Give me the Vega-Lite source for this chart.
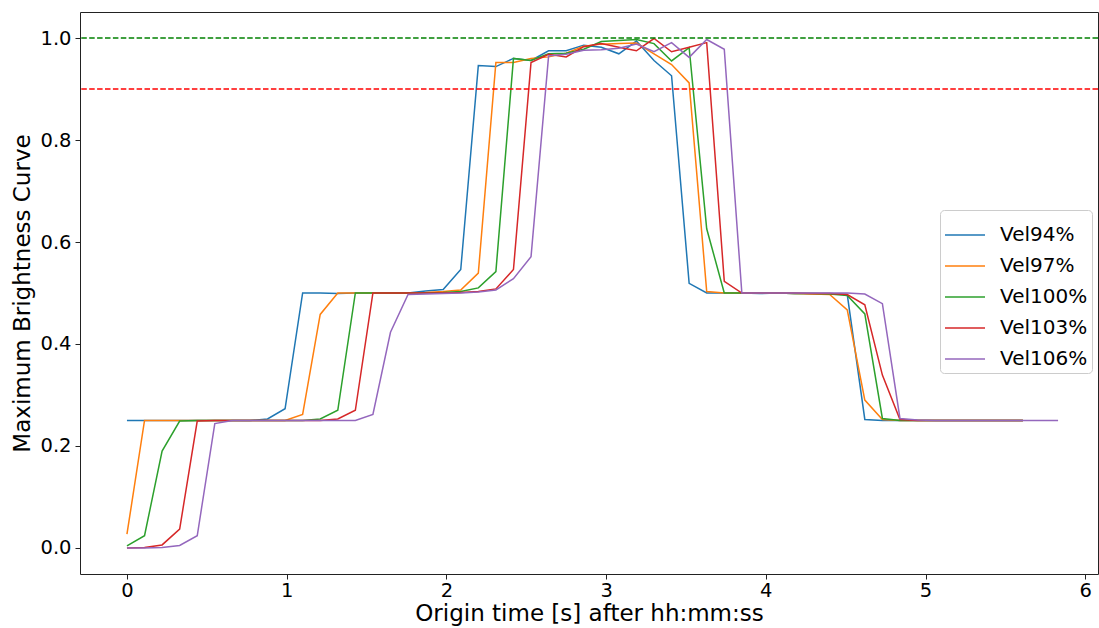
{
  "$schema": "https://vega.github.io/schema/vega-lite/v6.json",
  "width": 1018,
  "height": 562,
  "autosize": {"type": "none"},
  "padding": {"left": 80, "top": 12, "right": 1, "bottom": 54},
  "background": "white",
  "config": {
    "font": "DejaVu Sans",
    "view": {"stroke": "#222222", "strokeWidth": 1},
    "axis": {
      "domain": false,
      "grid": false,
      "tickColor": "#222222",
      "tickSize": 5,
      "tickWidth": 1,
      "labelFont": "DejaVu Sans",
      "labelFontSize": 19.5,
      "labelColor": "black",
      "titleFont": "DejaVu Sans",
      "titleFontSize": 23,
      "titleFontWeight": "normal",
      "titleColor": "black"
    },
    "legend": {
      "orient": "none",
      "legendX": 860,
      "legendY": 198,
      "symbolType": "stroke",
      "symbolSize": 1600,
      "symbolStrokeWidth": 1.5,
      "labelFont": "DejaVu Sans",
      "labelFontSize": 20,
      "labelColor": "black",
      "labelOffset": 14,
      "rowPadding": -11,
      "padding": 4,
      "strokeColor": "#cccccc",
      "cornerRadius": 4,
      "fillColor": "white"
    }
  },
  "datasets": {
    "series": [
      {"s":"Vel94%","x":0,"y":0.25},{"s":"Vel94%","x":0.11,"y":0.25},{"s":"Vel94%","x":0.22,"y":0.25},{"s":"Vel94%","x":0.33,"y":0.25},{"s":"Vel94%","x":0.44,"y":0.25},{"s":"Vel94%","x":0.55,"y":0.25},{"s":"Vel94%","x":0.66,"y":0.25},{"s":"Vel94%","x":0.77,"y":0.25},{"s":"Vel94%","x":0.88,"y":0.253},{"s":"Vel94%","x":0.99,"y":0.273},{"s":"Vel94%","x":1.1,"y":0.5},{"s":"Vel94%","x":1.21,"y":0.5},{"s":"Vel94%","x":1.32,"y":0.499},{"s":"Vel94%","x":1.43,"y":0.5},{"s":"Vel94%","x":1.54,"y":0.5},{"s":"Vel94%","x":1.65,"y":0.5},{"s":"Vel94%","x":1.76,"y":0.5},{"s":"Vel94%","x":1.87,"y":0.504},{"s":"Vel94%","x":1.98,"y":0.507},{"s":"Vel94%","x":2.09,"y":0.546},{"s":"Vel94%","x":2.2,"y":0.946},{"s":"Vel94%","x":2.31,"y":0.944},{"s":"Vel94%","x":2.42,"y":0.96},{"s":"Vel94%","x":2.53,"y":0.956},{"s":"Vel94%","x":2.64,"y":0.975},{"s":"Vel94%","x":2.75,"y":0.975},{"s":"Vel94%","x":2.86,"y":0.986},{"s":"Vel94%","x":2.97,"y":0.982},{"s":"Vel94%","x":3.08,"y":0.969},{"s":"Vel94%","x":3.19,"y":0.994},{"s":"Vel94%","x":3.3,"y":0.956},{"s":"Vel94%","x":3.41,"y":0.926},{"s":"Vel94%","x":3.52,"y":0.519},{"s":"Vel94%","x":3.63,"y":0.5},{"s":"Vel94%","x":3.74,"y":0.5},{"s":"Vel94%","x":3.85,"y":0.5},{"s":"Vel94%","x":3.96,"y":0.499},{"s":"Vel94%","x":4.07,"y":0.5},{"s":"Vel94%","x":4.18,"y":0.499},{"s":"Vel94%","x":4.29,"y":0.499},{"s":"Vel94%","x":4.4,"y":0.499},{"s":"Vel94%","x":4.51,"y":0.497},{"s":"Vel94%","x":4.62,"y":0.252},{"s":"Vel94%","x":4.73,"y":0.25},{"s":"Vel94%","x":4.84,"y":0.25},{"s":"Vel94%","x":4.95,"y":0.25},{"s":"Vel94%","x":5.06,"y":0.25},{"s":"Vel94%","x":5.17,"y":0.25},{"s":"Vel94%","x":5.28,"y":0.25},{"s":"Vel94%","x":5.39,"y":0.25},{"s":"Vel94%","x":5.5,"y":0.25},{"s":"Vel94%","x":5.61,"y":0.25},
      {"s":"Vel97%","x":0,"y":0.027},{"s":"Vel97%","x":0.11,"y":0.25},{"s":"Vel97%","x":0.22,"y":0.25},{"s":"Vel97%","x":0.33,"y":0.25},{"s":"Vel97%","x":0.44,"y":0.25},{"s":"Vel97%","x":0.55,"y":0.25},{"s":"Vel97%","x":0.66,"y":0.25},{"s":"Vel97%","x":0.77,"y":0.25},{"s":"Vel97%","x":0.88,"y":0.25},{"s":"Vel97%","x":0.99,"y":0.25},{"s":"Vel97%","x":1.1,"y":0.262},{"s":"Vel97%","x":1.21,"y":0.458},{"s":"Vel97%","x":1.32,"y":0.5},{"s":"Vel97%","x":1.43,"y":0.5},{"s":"Vel97%","x":1.54,"y":0.5},{"s":"Vel97%","x":1.65,"y":0.5},{"s":"Vel97%","x":1.76,"y":0.5},{"s":"Vel97%","x":1.87,"y":0.501},{"s":"Vel97%","x":1.98,"y":0.503},{"s":"Vel97%","x":2.09,"y":0.506},{"s":"Vel97%","x":2.2,"y":0.539},{"s":"Vel97%","x":2.31,"y":0.952},{"s":"Vel97%","x":2.42,"y":0.952},{"s":"Vel97%","x":2.53,"y":0.96},{"s":"Vel97%","x":2.64,"y":0.963},{"s":"Vel97%","x":2.75,"y":0.97},{"s":"Vel97%","x":2.86,"y":0.984},{"s":"Vel97%","x":2.97,"y":0.988},{"s":"Vel97%","x":3.08,"y":0.989},{"s":"Vel97%","x":3.19,"y":0.99},{"s":"Vel97%","x":3.3,"y":0.969},{"s":"Vel97%","x":3.41,"y":0.948},{"s":"Vel97%","x":3.52,"y":0.912},{"s":"Vel97%","x":3.63,"y":0.503},{"s":"Vel97%","x":3.74,"y":0.5},{"s":"Vel97%","x":3.85,"y":0.5},{"s":"Vel97%","x":3.96,"y":0.5},{"s":"Vel97%","x":4.07,"y":0.5},{"s":"Vel97%","x":4.18,"y":0.499},{"s":"Vel97%","x":4.29,"y":0.498},{"s":"Vel97%","x":4.4,"y":0.497},{"s":"Vel97%","x":4.51,"y":0.467},{"s":"Vel97%","x":4.62,"y":0.29},{"s":"Vel97%","x":4.73,"y":0.252},{"s":"Vel97%","x":4.84,"y":0.25},{"s":"Vel97%","x":4.95,"y":0.25},{"s":"Vel97%","x":5.06,"y":0.25},{"s":"Vel97%","x":5.17,"y":0.25},{"s":"Vel97%","x":5.28,"y":0.25},{"s":"Vel97%","x":5.39,"y":0.25},{"s":"Vel97%","x":5.5,"y":0.25},{"s":"Vel97%","x":5.61,"y":0.25},
      {"s":"Vel100%","x":0,"y":0.004},{"s":"Vel100%","x":0.11,"y":0.024},{"s":"Vel100%","x":0.22,"y":0.19},{"s":"Vel100%","x":0.33,"y":0.249},{"s":"Vel100%","x":0.44,"y":0.25},{"s":"Vel100%","x":0.55,"y":0.25},{"s":"Vel100%","x":0.66,"y":0.25},{"s":"Vel100%","x":0.77,"y":0.25},{"s":"Vel100%","x":0.88,"y":0.25},{"s":"Vel100%","x":0.99,"y":0.25},{"s":"Vel100%","x":1.1,"y":0.25},{"s":"Vel100%","x":1.21,"y":0.253},{"s":"Vel100%","x":1.32,"y":0.27},{"s":"Vel100%","x":1.43,"y":0.5},{"s":"Vel100%","x":1.54,"y":0.5},{"s":"Vel100%","x":1.65,"y":0.5},{"s":"Vel100%","x":1.76,"y":0.5},{"s":"Vel100%","x":1.87,"y":0.5},{"s":"Vel100%","x":1.98,"y":0.501},{"s":"Vel100%","x":2.09,"y":0.503},{"s":"Vel100%","x":2.2,"y":0.51},{"s":"Vel100%","x":2.31,"y":0.542},{"s":"Vel100%","x":2.42,"y":0.96},{"s":"Vel100%","x":2.53,"y":0.956},{"s":"Vel100%","x":2.64,"y":0.969},{"s":"Vel100%","x":2.75,"y":0.97},{"s":"Vel100%","x":2.86,"y":0.978},{"s":"Vel100%","x":2.97,"y":0.993},{"s":"Vel100%","x":3.08,"y":0.995},{"s":"Vel100%","x":3.19,"y":0.997},{"s":"Vel100%","x":3.3,"y":0.989},{"s":"Vel100%","x":3.41,"y":0.955},{"s":"Vel100%","x":3.52,"y":0.981},{"s":"Vel100%","x":3.63,"y":0.626},{"s":"Vel100%","x":3.74,"y":0.5},{"s":"Vel100%","x":3.85,"y":0.5},{"s":"Vel100%","x":3.96,"y":0.5},{"s":"Vel100%","x":4.07,"y":0.5},{"s":"Vel100%","x":4.18,"y":0.499},{"s":"Vel100%","x":4.29,"y":0.499},{"s":"Vel100%","x":4.4,"y":0.498},{"s":"Vel100%","x":4.51,"y":0.495},{"s":"Vel100%","x":4.62,"y":0.459},{"s":"Vel100%","x":4.73,"y":0.254},{"s":"Vel100%","x":4.84,"y":0.25},{"s":"Vel100%","x":4.95,"y":0.25},{"s":"Vel100%","x":5.06,"y":0.25},{"s":"Vel100%","x":5.17,"y":0.25},{"s":"Vel100%","x":5.28,"y":0.25},{"s":"Vel100%","x":5.39,"y":0.25},{"s":"Vel100%","x":5.5,"y":0.25},{"s":"Vel100%","x":5.61,"y":0.25},
      {"s":"Vel103%","x":0,"y":0.0},{"s":"Vel103%","x":0.11,"y":0.001},{"s":"Vel103%","x":0.22,"y":0.006},{"s":"Vel103%","x":0.33,"y":0.037},{"s":"Vel103%","x":0.44,"y":0.249},{"s":"Vel103%","x":0.55,"y":0.25},{"s":"Vel103%","x":0.66,"y":0.25},{"s":"Vel103%","x":0.77,"y":0.25},{"s":"Vel103%","x":0.88,"y":0.25},{"s":"Vel103%","x":0.99,"y":0.25},{"s":"Vel103%","x":1.1,"y":0.25},{"s":"Vel103%","x":1.21,"y":0.25},{"s":"Vel103%","x":1.32,"y":0.253},{"s":"Vel103%","x":1.43,"y":0.27},{"s":"Vel103%","x":1.54,"y":0.5},{"s":"Vel103%","x":1.65,"y":0.5},{"s":"Vel103%","x":1.76,"y":0.5},{"s":"Vel103%","x":1.87,"y":0.5},{"s":"Vel103%","x":1.98,"y":0.5},{"s":"Vel103%","x":2.09,"y":0.501},{"s":"Vel103%","x":2.2,"y":0.503},{"s":"Vel103%","x":2.31,"y":0.508},{"s":"Vel103%","x":2.42,"y":0.546},{"s":"Vel103%","x":2.53,"y":0.952},{"s":"Vel103%","x":2.64,"y":0.968},{"s":"Vel103%","x":2.75,"y":0.963},{"s":"Vel103%","x":2.86,"y":0.983},{"s":"Vel103%","x":2.97,"y":0.989},{"s":"Vel103%","x":3.08,"y":0.982},{"s":"Vel103%","x":3.19,"y":0.975},{"s":"Vel103%","x":3.3,"y":0.999},{"s":"Vel103%","x":3.41,"y":0.973},{"s":"Vel103%","x":3.52,"y":0.982},{"s":"Vel103%","x":3.63,"y":0.991},{"s":"Vel103%","x":3.74,"y":0.523},{"s":"Vel103%","x":3.85,"y":0.5},{"s":"Vel103%","x":3.96,"y":0.5},{"s":"Vel103%","x":4.07,"y":0.5},{"s":"Vel103%","x":4.18,"y":0.5},{"s":"Vel103%","x":4.29,"y":0.499},{"s":"Vel103%","x":4.4,"y":0.499},{"s":"Vel103%","x":4.51,"y":0.497},{"s":"Vel103%","x":4.62,"y":0.477},{"s":"Vel103%","x":4.73,"y":0.339},{"s":"Vel103%","x":4.84,"y":0.252},{"s":"Vel103%","x":4.95,"y":0.25},{"s":"Vel103%","x":5.06,"y":0.25},{"s":"Vel103%","x":5.17,"y":0.25},{"s":"Vel103%","x":5.28,"y":0.25},{"s":"Vel103%","x":5.39,"y":0.25},{"s":"Vel103%","x":5.5,"y":0.25},{"s":"Vel103%","x":5.61,"y":0.25},
      {"s":"Vel106%","x":0,"y":0.0},{"s":"Vel106%","x":0.11,"y":0.0},{"s":"Vel106%","x":0.22,"y":0.001},{"s":"Vel106%","x":0.33,"y":0.005},{"s":"Vel106%","x":0.44,"y":0.024},{"s":"Vel106%","x":0.55,"y":0.244},{"s":"Vel106%","x":0.66,"y":0.25},{"s":"Vel106%","x":0.77,"y":0.25},{"s":"Vel106%","x":0.88,"y":0.25},{"s":"Vel106%","x":0.99,"y":0.25},{"s":"Vel106%","x":1.1,"y":0.25},{"s":"Vel106%","x":1.21,"y":0.25},{"s":"Vel106%","x":1.32,"y":0.25},{"s":"Vel106%","x":1.43,"y":0.25},{"s":"Vel106%","x":1.54,"y":0.262},{"s":"Vel106%","x":1.65,"y":0.423},{"s":"Vel106%","x":1.76,"y":0.497},{"s":"Vel106%","x":1.87,"y":0.498},{"s":"Vel106%","x":1.98,"y":0.499},{"s":"Vel106%","x":2.09,"y":0.5},{"s":"Vel106%","x":2.2,"y":0.502},{"s":"Vel106%","x":2.31,"y":0.506},{"s":"Vel106%","x":2.42,"y":0.528},{"s":"Vel106%","x":2.53,"y":0.571},{"s":"Vel106%","x":2.64,"y":0.965},{"s":"Vel106%","x":2.75,"y":0.968},{"s":"Vel106%","x":2.86,"y":0.976},{"s":"Vel106%","x":2.97,"y":0.977},{"s":"Vel106%","x":3.08,"y":0.98},{"s":"Vel106%","x":3.19,"y":0.988},{"s":"Vel106%","x":3.3,"y":0.973},{"s":"Vel106%","x":3.41,"y":0.991},{"s":"Vel106%","x":3.52,"y":0.962},{"s":"Vel106%","x":3.63,"y":0.997},{"s":"Vel106%","x":3.74,"y":0.978},{"s":"Vel106%","x":3.85,"y":0.5},{"s":"Vel106%","x":3.96,"y":0.5},{"s":"Vel106%","x":4.07,"y":0.5},{"s":"Vel106%","x":4.18,"y":0.5},{"s":"Vel106%","x":4.29,"y":0.5},{"s":"Vel106%","x":4.4,"y":0.5},{"s":"Vel106%","x":4.51,"y":0.5},{"s":"Vel106%","x":4.62,"y":0.498},{"s":"Vel106%","x":4.73,"y":0.479},{"s":"Vel106%","x":4.84,"y":0.254},{"s":"Vel106%","x":4.95,"y":0.251},{"s":"Vel106%","x":5.06,"y":0.25},{"s":"Vel106%","x":5.17,"y":0.25},{"s":"Vel106%","x":5.28,"y":0.25},{"s":"Vel106%","x":5.39,"y":0.25},{"s":"Vel106%","x":5.5,"y":0.25},{"s":"Vel106%","x":5.61,"y":0.25},{"s":"Vel106%","x":5.72,"y":0.25},{"s":"Vel106%","x":5.83,"y":0.25}
    ],
    "refs": [
      {"level": 1.0, "kind": "full"},
      {"level": 0.9, "kind": "threshold"}
    ]
  },
  "layer": [
    {
      "data": {"name": "series"},
      "mark": {"type": "line", "strokeWidth": 1.5, "clip": true},
      "encoding": {
        "x": {
          "field": "x", "type": "quantitative",
          "scale": {"domain": [-0.294, 6.08], "nice": false, "zero": false},
          "axis": {"values": [0, 1, 2, 3, 4, 5, 6], "format": "d", "title": "Origin time [s] after hh:mm:ss", "labelPadding": 2, "titlePadding": 3}
        },
        "y": {
          "field": "y", "type": "quantitative",
          "scale": {"domain": [-0.051, 1.051], "nice": false, "zero": false},
          "axis": {"values": [0, 0.2, 0.4, 0.6, 0.8, 1.0], "format": ".1f", "title": "Maximum Brightness Curve", "labelPadding": 4, "titlePadding": 5}
        },
        "color": {
          "field": "s", "type": "nominal",
          "scale": {
            "domain": ["Vel94%", "Vel97%", "Vel100%", "Vel103%", "Vel106%"],
            "range": ["#1f77b4", "#ff7f0e", "#2ca02c", "#d62728", "#9467bd"]
          },
          "legend": {"title": null}
        },
        "order": {"field": "x", "type": "quantitative"}
      }
    },
    {
      "data": {"name": "refs"},
      "transform": [{"filter": "datum.kind === 'full'"}],
      "mark": {"type": "rule", "color": "green", "strokeWidth": 1.5, "strokeDash": [5.5, 2.4]},
      "encoding": {"y": {"field": "level", "type": "quantitative"}}
    },
    {
      "data": {"name": "refs"},
      "transform": [{"filter": "datum.kind === 'threshold'"}],
      "mark": {"type": "rule", "color": "red", "strokeWidth": 1.5, "strokeDash": [5.5, 2.4]},
      "encoding": {"y": {"field": "level", "type": "quantitative"}}
    }
  ]
}
